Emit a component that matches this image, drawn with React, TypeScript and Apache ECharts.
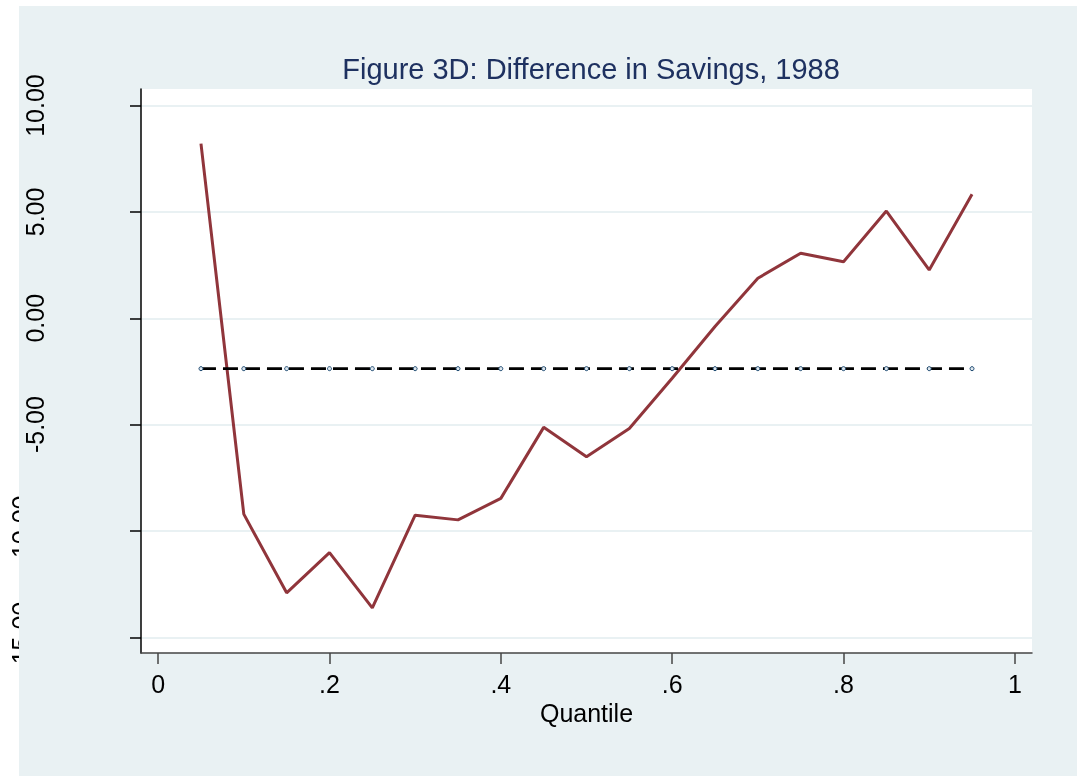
import React, { useEffect, useRef } from "react";
import * as echarts from "echarts";

const titleText = "Figure 3D: Difference in Savings, 1988";
const xAxisName = "Quantile";
const quantiles = [0.05, 0.1, 0.15, 0.2, 0.25, 0.3, 0.35, 0.4, 0.45, 0.5, 0.55, 0.6, 0.65, 0.7, 0.75, 0.8, 0.85, 0.9, 0.95];
const savingsDiff = [8.21, -9.21, -12.91, -11.02, -13.62, -9.26, -9.48, -8.47, -5.13, -6.51, -5.18, -2.82, -0.39, 1.88, 3.06, 2.66, 5.04, 2.27, 5.83];
const meanDiff = [-2.37, -2.37, -2.37, -2.37, -2.37, -2.37, -2.37, -2.37, -2.37, -2.37, -2.37, -2.37, -2.37, -2.37, -2.37, -2.37, -2.37, -2.37, -2.37];
const xTicks = [0, 0.2, 0.4, 0.6, 0.8, 1];
const yTicksMain = [-5, 0, 5, 10];
const yTicksLow = [-15, -10];
const yTicksAll = [-15, -10, -5, 0, 5, 10];

const FONT = "'Liberation Sans', Arial, sans-serif";
const BG = "#e9f1f3";

const fmtX = (v: number) => {
  if (Math.abs(v) < 1e-9) return "0";
  if (Math.abs(v - 1) < 1e-9) return "1";
  return "." + String(Math.round(v * 10));
};
const fmtY = (v: number) => v.toFixed(2);

export default function App() {
  const ref = useRef<HTMLDivElement>(null);
  useEffect(() => {
    if (!ref.current) return;
    const chart = echarts.init(ref.current, null, { renderer: "svg" });
    chart.setOption({
      animation: false,
      graphic: [
        {
          type: "rect",
          z: 1,
          silent: true,
          shape: { x: 19, y: 6, width: 1058, height: 770 },
          style: { fill: BG },
        },
      ],
      title: {
        text: titleText,
        left: 586,
        textAlign: "center",
        top: 49,
        z: 6,
        textStyle: { fontFamily: FONT, fontSize: 29, fontWeight: "normal", color: "#1e3160" },
      },
      grid: {
        left: 141,
        top: 89,
        width: 891,
        height: 564,
        show: true,
        backgroundColor: "#ffffff",
        borderWidth: 0,
        z: 2,
      },
      xAxis: {
        type: "value",
        min: -0.02,
        max: 1.02,
        z: 3,
        name: xAxisName,
        nameLocation: "middle",
        nameGap: 44,
        nameTextStyle: { fontFamily: FONT, fontSize: 25, color: "#000" },
        axisLine: { show: true, onZero: false, lineStyle: { color: "#444", width: 1.5 } },
        axisTick: { show: true, length: 11, customValues: xTicks, lineStyle: { color: "#444", width: 1.5 } },
        axisLabel: {
          customValues: xTicks,
          formatter: fmtX,
          margin: 18,
          fontFamily: FONT,
          fontSize: 25,
          color: "#000",
        },
        splitLine: { show: false },
      },
      yAxis: [
        {
          type: "value",
          position: "left",
          min: -15.74,
          max: 10.78,
          z: 3,
          axisLine: { show: true, onZero: false, lineStyle: { color: "#000", width: 1.5 } },
          axisTick: { show: true, length: 11, customValues: yTicksAll, lineStyle: { color: "#000", width: 1.5 } },
          axisLabel: {
            customValues: yTicksMain,
            formatter: fmtY,
            rotate: 90,
            margin: 94,
            fontFamily: FONT,
            fontSize: 25,
            color: "#000",
          },
          splitLine: { show: true, lineStyle: { color: BG, width: 2 } },
        },
        {
          type: "value",
          position: "left",
          offset: 0,
          min: -15.74,
          max: 10.78,
          z: 0,
          axisLine: { show: false },
          axisTick: { show: false },
          axisLabel: {
            customValues: yTicksLow,
            formatter: fmtY,
            rotate: 90,
            margin: 108,
            fontFamily: FONT,
            fontSize: 25,
            color: "#000",
          },
          splitLine: { show: false },
        },
      ],
      series: [
        {
          type: "line",
          z: 5,
          data: quantiles.map((q, i) => [q, savingsDiff[i]]),
          symbol: "none",
          lineStyle: { color: "#90353b", width: 3 },
        },
        {
          type: "line",
          z: 6,
          data: quantiles.map((q, i) => [q, meanDiff[i]]),
          symbol: "circle",
          symbolSize: 4,
          itemStyle: { color: "#dfe8ef", borderColor: "#1a476f", borderWidth: 1 },
          lineStyle: { color: "#000", width: 2.8, type: [15, 7] },
        },
      ],
    });
    return () => chart.dispose();
  }, []);
  return (
    <div
      ref={ref}
      style={{ position: "fixed", left: 0, top: 0, width: 1080, height: 776, background: "transparent" }}
    />
  );
}
